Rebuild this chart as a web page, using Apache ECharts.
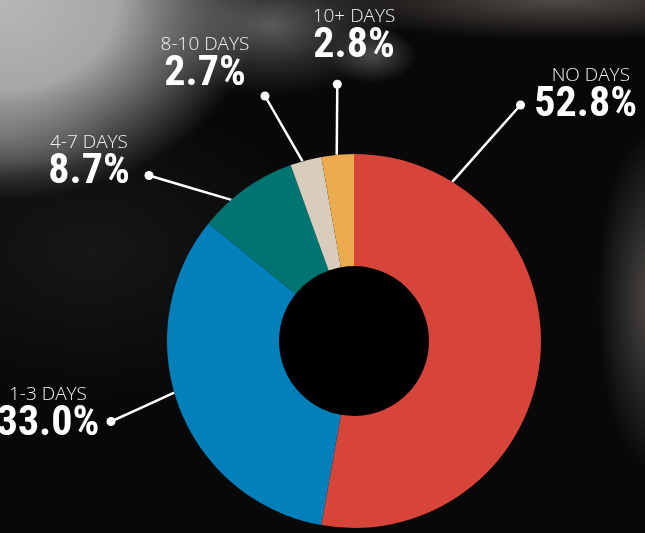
<!DOCTYPE html>
<html>
<head>
<meta charset="utf-8">
<script src="https://cdn.jsdelivr.net/npm/echarts@6/dist/echarts.min.js"></script>
<style>
html,body{margin:0;padding:0;background:#080707;}
#chart{width:645px;height:533px;
background:
 radial-gradient(circle 76px at 354px 341px, #000 0%, #000 98%, rgba(0,0,0,0) 100%),
 radial-gradient(ellipse 260px 200px at 0px 0px, rgba(184,182,182,1) 0%, rgba(168,166,166,1) 45%, rgba(128,126,126,0.75) 70%, rgba(60,58,58,0) 100%),
 radial-gradient(ellipse 110px 45px at 0px 132px, rgba(105,103,103,0.8) 0%, rgba(60,58,58,0) 100%),
 radial-gradient(ellipse 130px 70px at 270px 25px, rgba(92,90,90,1) 0%, rgba(62,60,60,0.6) 55%, rgba(30,29,29,0) 100%),
 radial-gradient(ellipse 45px 28px at 372px 55px, rgba(95,93,93,0.8) 0%, rgba(40,38,38,0) 100%),
 radial-gradient(ellipse 260px 40px at 560px 0px, rgba(84,78,74,0.95) 0%, rgba(40,38,38,0) 100%),
 radial-gradient(ellipse 55px 170px at 652px 300px, rgba(80,77,74,0.95) 0%, rgba(30,30,30,0) 100%),
 radial-gradient(ellipse 230px 150px at 90px 250px, rgba(24,23,23,1) 0%, rgba(10,10,10,0) 100%),
 #090808;}
</style>
</head>
<body>
<div id="chart"></div>
<script>
// ---- data ----
var categories = ['NO DAYS', '1-3 DAYS', '4-7 DAYS', '8-10 DAYS', '10+ DAYS'];
var values = [52.8, 33.0, 8.7, 2.7, 2.8];

// ---- styling / layout (not data) ----
var sliceColors = ['#d6443a', '#0180bb', '#007470', '#d8cdbc', '#ebab4e'];
var CX = 354, CY = 341, R_IN = 75, R_OUT = 187;
// where each leader line leaves the ring (deg, clockwise from 12 o'clock)
var lineStartAngle = [31.7, -106, -41, -16, -5.3];
// leader-line end dots
var dotPos = [[520.5, 105], [111, 421.5], [149, 175.5], [265, 96], [337.3, 84.3]];
// text block anchors [x, y(top), align]
var textPos = [[637, 66, 'right'], [48, 385, 'center'], [89, 133, 'center'], [205, 35, 'center'], [354, 7, 'center']];

var chart = echarts.init(document.getElementById('chart'), null, {renderer: 'canvas'});

var pieData = categories.map(function (c, i) {
  return {name: c, value: values[i], itemStyle: {color: sliceColors[i]}};
});

function ringPoint(deg) {
  var a = deg * Math.PI / 180;
  return [CX + R_OUT * Math.sin(a), CY - R_OUT * Math.cos(a)];
}

var nameStyle = {fontFamily: "'Open Sans', sans-serif", fontWeight: 300, fontSize: 19, color: '#f2f2f2', lineHeight: 20};

chart.setOption({
  backgroundColor: 'transparent',
  animation: false,
  series: [
    {
      type: 'pie',
      name: 'labels',
      center: [CX, CY],
      radius: [R_IN, R_OUT],
      silent: true,
      avoidLabelOverlap: false,
      data: pieData.map(function (d) { return {name: d.name, value: d.value, itemStyle: {color: 'rgba(0,0,0,0)'}}; }),
      labelLine: {show: false},
      label: {
        show: true,
        position: 'outside',
        formatter: function (p) {
          var key = textPos[p.dataIndex][2] === 'right' ? 'nr' : 'n';
          return '{' + key + '|' + p.name + '}\n{v|' + p.value.toFixed(1) + '%}';
        },
        rich: {
          n: nameStyle,
          nr: Object.assign({}, nameStyle, {padding: [0, 7, 0, 0]}),
          v: {fontFamily: "Roboto, 'Open Sans', sans-serif", fontWeight: 'bold condensed', fontSize: 42, color: '#ffffff', lineHeight: 39}
        }
      },
      labelLayout: function (p) {
        var t = textPos[p.dataIndex];
        return {x: t[0], y: t[1], align: t[2], verticalAlign: 'top'};
      },
      emphasis: {disabled: true}
    },
    {
      type: 'pie',
      name: 'days',
      center: [CX, CY],
      radius: [R_IN, R_OUT],
      avoidLabelOverlap: false,
      data: pieData,
      label: {
        show: true,
        position: 'outside',
        formatter: '{d|}',
        rich: {d: {width: 9, height: 9, borderRadius: 4.5, backgroundColor: '#ffffff'}}
      },
      labelLine: {show: true, lineStyle: {color: '#ffffff', width: 2.5}},
      labelLayout: function (p) {
        var i = p.dataIndex;
        var s = ringPoint(lineStartAngle[i]);
        var e = dotPos[i];
        return {
          x: e[0], y: e[1], align: 'center', verticalAlign: 'middle',
          labelLinePoints: [s, [(s[0] + e[0]) / 2, (s[1] + e[1]) / 2], e]
        };
      },
      emphasis: {disabled: true}
    }
  ]
});
</script>
</body>
</html>
